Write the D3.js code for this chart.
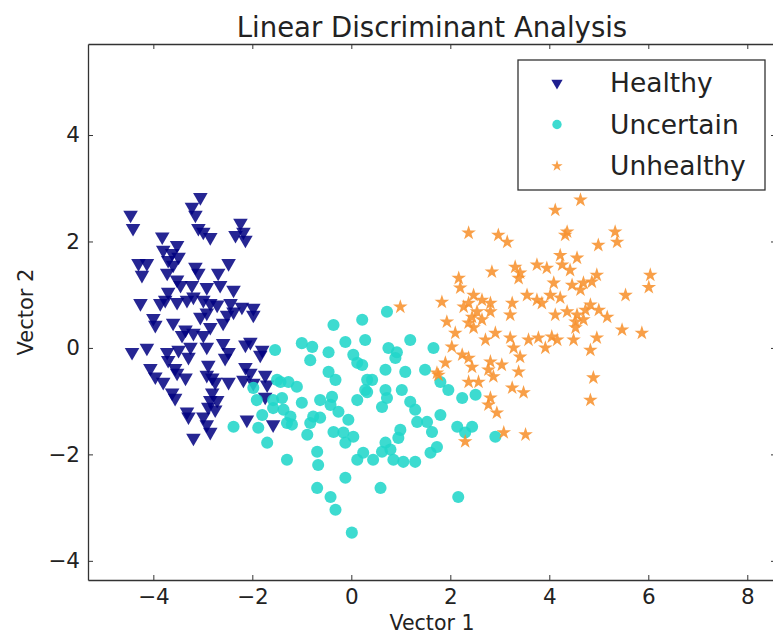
<!DOCTYPE html>
<html lang="en">
<head>
  <meta charset="UTF-8">
  <title>Linear Discriminant Analysis</title>
  <script src="https://d3js.org/d3.v7.min.js"></script>
  <style>
    body { margin: 0; background: white; font-family: "DejaVu Sans", sans-serif; }
    .axis path { stroke: #333; stroke-width: 1.3; }
    .axis line { stroke: #333; stroke-width: 1; }
    .axis text { font-family: "DejaVu Sans", sans-serif; font-size: 21.5px; fill: #222; }
  </style>
</head>
<body>
  <svg width="773" height="635"></svg>
  <script>
    // class names and colours
    const classNames = ["Healthy", "Uncertain", "Unhealthy"];
    const classColors = ["#000080", "#22d6c9", "#f7922f"];

    // projected points
    const healthyX = [-3.05,-4.46,-4.41,-3.22,-3.15,-3.09,-2.99,-2.85,-2.24,-2.18,-2.34,-2.14,-3.82,-3.52,-3.80,-3.62,-3.49,-3.70,-3.60,-4.30,
      -4.13,-4.23,-3.15,-3.09,-2.48,-2.69,-3.72,-3.52,-3.45,-3.22,-2.92,-2.65,-2.38,-3.70,-3.76,-4.26,-3.86,-3.52,-3.32,-3.19,
      -2.99,-2.85,-2.71,-2.44,-2.21,-1.98,-4.00,-3.96,-3.60,-3.35,-3.42,-3.19,-3.05,-2.92,-2.85,-2.99,-2.59,-2.51,-2.38,-1.98,
      -4.43,-4.13,-3.72,-3.70,-3.49,-3.25,-3.29,-2.92,-2.59,-2.48,-2.55,-2.14,-2.04,-1.80,-1.84,-4.06,-3.96,-3.80,-3.56,-3.52,
      -3.35,-2.89,-2.92,-2.81,-2.75,-2.48,-2.14,-2.04,-2.18,-1.98,-1.74,-1.70,-3.62,-3.56,-2.81,-2.85,-2.71,-2.75,-2.89,-3.32,
      -3.29,-2.99,-2.92,-2.11,-3.19,-2.85,-1.74,-1.58];
    const healthyY = [2.83,2.50,2.25,2.65,2.50,2.25,2.18,2.08,2.35,2.18,2.12,2.03,2.09,1.93,1.84,1.78,1.71,1.65,1.56,1.59,
      1.59,1.37,1.52,1.41,1.59,1.41,1.41,1.28,1.18,1.18,1.14,1.18,1.09,1.05,0.90,0.84,0.84,0.86,0.90,0.96,
      0.90,0.84,0.81,0.84,0.77,0.75,0.56,0.43,0.47,0.34,0.24,0.28,0.58,0.66,0.39,0.24,0.47,0.62,0.68,0.62,
      -0.08,0.00,-0.08,-0.23,-0.04,0.02,-0.17,0.02,0.09,-0.08,-0.19,0.06,0.11,-0.04,-0.13,-0.38,-0.54,-0.64,-0.38,-0.47,
      -0.56,-0.32,-0.51,-0.56,-0.64,-0.64,-0.36,-0.47,-0.60,-0.66,-0.51,-0.69,-0.84,-0.94,-0.84,-0.98,-0.98,-1.16,-1.11,-1.20,
      -1.29,-1.29,-1.44,-1.35,-1.69,-1.58,-0.92,-1.44];

    const uncertainX = [-0.36,0.22,-0.12,0.28,-1.00,-0.79,-0.83,-0.46,-1.54,0.04,0.12,0.22,-0.46,-0.32,0.32,-1.43,-1.27,-1.10,-1.98,-1.91,
      -1.40,-1.00,-0.63,-0.39,-0.42,-0.26,0.12,0.28,-1.80,-1.58,-1.37,-1.23,-1.30,-1.20,-1.88,-2.38,-0.77,-0.63,-0.83,-0.06,
      -0.36,-0.16,0.04,-0.12,-0.89,-1.70,-0.69,0.12,0.24,-1.30,-0.67,-0.12,-0.69,-0.42,-0.32,0.01,0.72,1.19,0.75,0.92,
      0.89,1.66,0.69,1.09,1.49,0.42,0.32,0.69,1.02,0.72,0.62,1.19,1.29,1.80,1.96,2.24,2.51,1.80,1.33,1.53,
      1.63,0.99,0.95,0.69,0.79,0.62,1.73,1.60,2.14,2.44,2.30,2.91,0.44,0.85,1.05,1.29,0.59,2.16,-1.50,-1.58];
    const uncertainY = [0.43,0.53,0.11,0.15,0.09,0.02,-0.23,-0.08,-0.04,-0.13,-0.28,-0.32,-0.45,-0.60,-0.60,-0.64,-0.64,-0.73,-0.75,-0.98,
      -0.94,-1.03,-0.98,-0.92,-1.07,-1.20,-0.98,-0.79,-1.26,-1.13,-1.16,-1.29,-1.41,-1.44,-1.50,-1.48,-1.29,-1.31,-1.41,-1.35,
      -1.58,-1.59,-1.67,-1.78,-1.63,-1.78,-1.95,-2.10,-1.97,-2.10,-2.20,-2.44,-2.63,-2.80,-3.04,-3.47,0.68,0.15,0.00,-0.08,
      -0.19,0.00,-0.41,-0.45,-0.41,-0.60,-0.83,-0.79,-0.79,-0.94,-1.11,-1.01,-1.16,-0.64,-0.79,-0.94,-0.88,-1.26,-1.39,-1.39,
      -1.58,-1.54,-1.69,-1.78,-1.91,-1.95,-1.86,-1.97,-1.48,-1.48,-1.59,-1.67,-2.10,-2.10,-2.14,-2.14,-2.63,-2.80,-0.60,-0.98];

    const unhealthyX = [4.63,4.12,2.37,2.97,3.15,4.36,4.32,5.33,5.37,4.99,4.22,4.56,4.26,4.42,3.75,3.95,3.31,3.41,3.38,2.84,
      6.04,6.01,2.17,2.20,4.96,4.86,4.69,4.46,4.63,4.09,3.55,3.75,3.85,4.02,4.22,5.54,1.83,2.47,2.37,2.27,
      2.64,2.81,2.54,2.81,2.44,2.64,2.37,2.47,3.25,3.21,4.12,4.36,4.56,4.73,4.83,5.00,5.17,4.53,4.69,1.93,
      4.53,5.47,5.87,2.10,2.91,3.21,2.71,3.58,3.78,4.05,4.16,3.92,4.49,4.96,2.03,3.28,4.83,3.41,2.24,2.37,
      2.44,1.90,2.81,3.04,2.77,2.87,3.38,1.76,4.89,2.37,2.57,3.25,3.48,4.83,2.81,2.77,2.94,3.08,3.52,2.30,
      0.99,1.73];
    const unhealthyY = [2.78,2.59,2.16,2.12,1.99,2.18,2.12,2.18,1.99,1.93,1.74,1.69,1.56,1.46,1.56,1.50,1.52,1.41,1.31,1.43,
      1.37,1.14,1.31,1.13,1.37,1.24,1.22,1.18,1.09,1.22,0.99,0.90,0.84,0.99,0.94,0.99,0.86,0.99,0.84,0.77,
      0.90,0.84,0.68,0.68,0.58,0.53,0.47,0.38,0.84,0.62,0.62,0.68,0.62,0.71,0.81,0.71,0.58,0.49,0.53,0.49,
      0.38,0.34,0.28,0.28,0.28,0.19,0.15,0.15,0.19,0.21,0.15,0.00,0.15,0.19,0.02,0.00,-0.04,-0.17,-0.13,-0.19,
      -0.36,-0.28,-0.26,-0.32,-0.41,-0.54,-0.45,-0.51,-0.56,-0.64,-0.64,-0.75,-0.84,-0.98,-0.94,-1.07,-1.22,-1.59,-1.63,-1.76,
      0.77,-0.47];

    const xTicks = [-4, -2, 0, 2, 4, 6, 8];
    const yTicks = [-4, -2, 0, 2, 4];

    const svg = d3.select("svg");
    const box = { left: 88, right: 776, top: 44, bottom: 580 };

    const x = d3.scaleLinear().domain([-5.32, 8.58]).range([box.left, box.right]);
    const y = d3.scaleLinear().domain([-4.36, 5.71]).range([box.bottom, box.top]);

    const series = [
      { name: classNames[0], color: classColors[0], xs: healthyX, ys: healthyY, shape: "tri" },
      { name: classNames[1], color: classColors[1], xs: uncertainX, ys: uncertainY, shape: "circle" },
      { name: classNames[2], color: classColors[2], xs: unhealthyX, ys: unhealthyY, shape: "star" }
    ];

    const symbolFor = (shape, scale) => {
      if (shape === "tri") return d3.symbol(d3.symbolTriangle, 92 * scale)();
      if (shape === "circle") return d3.symbol(d3.symbolCircle, 115 * scale)();
      return d3.symbol(d3.symbolStar, 66 * scale)();
    };
    const rot = shape => shape === "tri" ? " rotate(180)" : "";

    const plot = svg.append("g");
    series.forEach(s => {
      const pts = s.xs.map((v, i) => ({ x: v, y: s.ys[i] }));
      plot.selectAll(null)
        .data(pts)
        .enter()
        .append("path")
        .attr("d", symbolFor(s.shape, 1))
        .attr("transform", d => `translate(${x(d.x)},${y(d.y)})${rot(s.shape)}`)
        .attr("fill", s.color)
        .attr("fill-opacity", s.shape === "tri" ? 0.85 : 0.88);
    });

    // axes, matplotlib classic: ticks inside on all four sides
    svg.append("g")
      .attr("class", "axis")
      .attr("transform", `translate(0,${box.bottom})`)
      .call(d3.axisBottom(x).tickValues(xTicks).tickSizeInner(-5).tickSizeOuter(0).tickPadding(9));
    svg.append("g")
      .attr("class", "axis")
      .attr("transform", `translate(0,${box.top})`)
      .call(d3.axisTop(x).tickValues(xTicks).tickSizeInner(-5).tickSizeOuter(0).tickFormat(""));
    svg.append("g")
      .attr("class", "axis")
      .attr("transform", `translate(${box.left},0)`)
      .call(d3.axisLeft(y).tickValues(yTicks).tickSizeInner(-5).tickSizeOuter(0).tickPadding(8));
    svg.append("g")
      .attr("class", "axis")
      .attr("transform", `translate(${box.right},0)`)
      .call(d3.axisRight(y).tickValues(yTicks).tickSizeInner(-5).tickSizeOuter(0).tickFormat(""));

    svg.append("text")
      .attr("x", (box.left + box.right) / 2)
      .attr("y", 37)
      .attr("text-anchor", "middle")
      .style("font-size", "27.5px")
      .attr("fill", "#222")
      .text("Linear Discriminant Analysis");

    svg.append("text")
      .attr("x", (box.left + box.right) / 2)
      .attr("y", 630)
      .attr("text-anchor", "middle")
      .style("font-size", "20.5px")
      .attr("fill", "#222")
      .text("Vector 1");

    svg.append("text")
      .attr("transform", `translate(33,${(box.top + box.bottom) / 2}) rotate(-90)`)
      .attr("text-anchor", "middle")
      .style("font-size", "21px")
      .attr("fill", "#222")
      .text("Vector 2");

    // legend
    const legend = svg.append("g");
    legend.append("rect")
      .attr("x", 518).attr("y", 60)
      .attr("width", 247).attr("height", 130)
      .attr("fill", "white")
      .attr("stroke", "#333")
      .attr("stroke-width", 1.3);
    series.forEach((s, i) => {
      const ly = 83 + i * 41.5;
      legend.append("path")
        .attr("d", symbolFor(s.shape, 0.6))
        .attr("transform", `translate(557,${ly})${rot(s.shape)}`)
        .attr("fill", s.color)
        .attr("fill-opacity", 0.88);
      legend.append("text")
        .attr("x", 610)
        .attr("y", ly + 9)
        .style("font-size", "26.5px")
        .attr("fill", "#222")
        .text(s.name);
    });
  </script>
</body>
</html>
